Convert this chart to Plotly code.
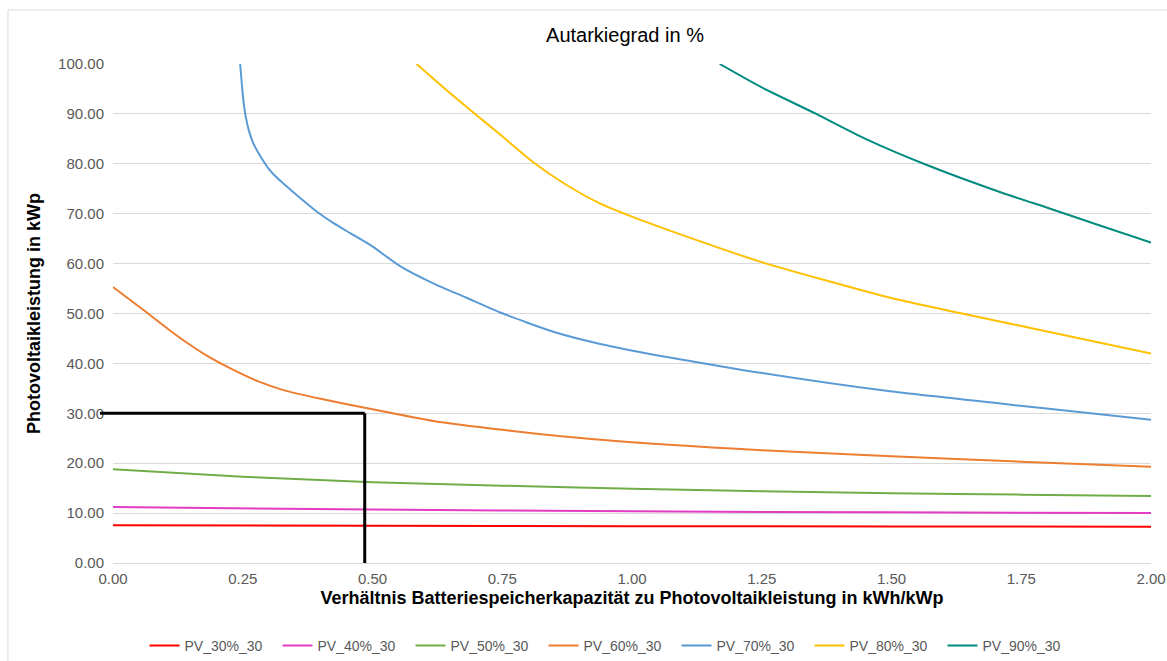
import plotly.graph_objects as go

# ---------------- data ----------------
x_pv30 = [0.0, 0.5, 1.0, 1.5, 2.0]
y_pv30 = [7.55, 7.45, 7.38, 7.32, 7.27]

x_pv40 = [0.0, 0.5, 1.0, 1.5, 2.0]
y_pv40 = [11.2, 10.7, 10.35, 10.15, 10.0]

x_pv50 = [0.0, 0.25, 0.5, 0.75, 1.0, 1.25, 1.5, 1.75, 2.0]
y_pv50 = [18.8, 17.3, 16.2, 15.5, 14.9, 14.4, 14.0, 13.7, 13.45]

x_pv60 = [0.0, 0.06, 0.12, 0.18, 0.23, 0.28, 0.33, 0.40, 0.49, 0.62, 0.75, 0.94,
          1.25, 1.5, 1.75, 2.0]
y_pv60 = [55.3, 50.6, 45.8, 41.6, 38.8, 36.4, 34.6, 32.9, 31.0, 28.4, 26.7, 24.7,
          22.6, 21.4, 20.3, 19.3]

x_pv70 = [0.245, 0.247, 0.249, 0.252, 0.256, 0.262, 0.27, 0.28, 0.29, 0.30,
          0.315, 0.33, 0.36, 0.393, 0.425, 0.457, 0.499, 0.553, 0.618, 0.68,
          0.746, 0.85, 0.939, 1.05, 1.218, 1.49, 1.776, 2.0]
y_pv70 = [100.0, 97.5, 95.0, 92.0, 89.3, 86.6, 84.2, 82.2, 80.5, 79.0,
          77.3, 75.9, 73.2, 70.4, 68.1, 66.1, 63.5, 59.5, 56.0, 53.2,
          50.2, 46.3, 43.9, 41.6, 38.6, 34.5, 31.2, 28.7]

x_pv80 = [0.585, 0.64, 0.70, 0.75, 0.811, 0.87, 0.939, 1.0, 1.1, 1.25, 1.5, 1.75, 2.0]
y_pv80 = [100.0, 95.0, 89.8, 85.5, 80.2, 76.0, 72.0, 69.4, 65.6, 60.3, 53.1, 47.5, 42.0]

x_pv90 = [1.169, 1.25, 1.351, 1.45, 1.567, 1.71, 1.806, 1.9, 2.0]
y_pv90 = [100.0, 95.3, 90.2, 85.0, 79.8, 74.3, 71.0, 67.7, 64.2]

series_names = ["PV_30%_30", "PV_40%_30", "PV_50%_30", "PV_60%_30",
                "PV_70%_30", "PV_80%_30", "PV_90%_30"]
series_colors = ["#FF0000", "#E23CC4", "#70AD47", "#ED7D31",
                 "#5B9BD5", "#FFC000", "#008B80"]

marker_x = 0.485   # marked battery ratio
marker_y = 30.0    # marked PV power

x_max = 2.0
y_max = 100.0

# ---------------- figure ----------------
xs = [x_pv30, x_pv40, x_pv50, x_pv60, x_pv70, x_pv80, x_pv90]
ys = [y_pv30, y_pv40, y_pv50, y_pv60, y_pv70, y_pv80, y_pv90]

fig = go.Figure()
for xv, yv, name, col in zip(xs, ys, series_names, series_colors):
    fig.add_trace(go.Scatter(
        x=xv, y=yv, name=name, mode="lines",
        line=dict(color=col, width=2, shape="spline", smoothing=0.6),
    ))

FONT = "Liberation Sans, Arial, sans-serif"
W, H = 1167, 661

# marker lines (black)
fig.add_shape(type="line", xref="paper", yref="y",
              x0=-0.0125, x1=marker_x / x_max, y0=marker_y, y1=marker_y,
              line=dict(color="black", width=3), layer="above")
fig.add_shape(type="line", xref="x", yref="y",
              x0=marker_x, x1=marker_x, y0=0, y1=marker_y,
              line=dict(color="black", width=3), layer="above")

# outer chart frame
fig.add_shape(type="rect", xref="paper", yref="paper",
              x0=-0.1012, x1=1.03, y0=-0.21, y1=1.1082,
              line=dict(color="#D9D9D9", width=1), fillcolor="rgba(0,0,0,0)",
              layer="below")

fig.update_layout(
    width=W, height=H,
    margin=dict(l=113, r=16, t=64, b=98, autoexpand=False),
    paper_bgcolor="white", plot_bgcolor="white",
    font=dict(family=FONT, color="#595959", size=15),
    title=dict(text="Autarkiegrad in %", x=625 / W, xanchor="center",
               y=1 - 35 / H, yanchor="middle",
               font=dict(family=FONT, size=20, color="#000000")),
    xaxis=dict(range=[0, x_max], tick0=0, dtick=0.25, tickformat=".2f",
               showgrid=False, zeroline=False, showline=False, automargin=False,
               ticks="", ticklabelstandoff=5,
               tickfont=dict(size=15, color="#595959"),
               title=dict(text="<b>Verhältnis Batteriespeicherkapazität zu Photovoltaikleistung in kWh/kWp</b>",
                          font=dict(size=18, color="#000000"), standoff=5)),
    yaxis=dict(range=[0, y_max], tick0=0, dtick=10, tickformat=".2f",
               showgrid=True, gridcolor="#D9D9D9", gridwidth=1, automargin=False,
               zeroline=True, zerolinecolor="#D9D9D9", zerolinewidth=1,
               showline=False, ticks="", ticklabelstandoff=8,
               tickfont=dict(size=15, color="#595959"),
               title=dict(text="<b>Photovoltaikleistung in kWp</b>",
                          font=dict(size=18, color="#000000"), standoff=12)),
    legend=dict(orientation="h", xref="container", x=610 / W, xanchor="center",
                yref="container", y=15 / H, yanchor="middle",
                itemwidth=30, entrywidth=88, entrywidthmode="pixels",
                font=dict(size=14, color="#595959")),
    showlegend=True,
)

fig.write_html(
    "out.html",
    config={"displayModeBar": False},
    post_script="document.body.style.margin='0';document.body.style.overflow='hidden';",
)
